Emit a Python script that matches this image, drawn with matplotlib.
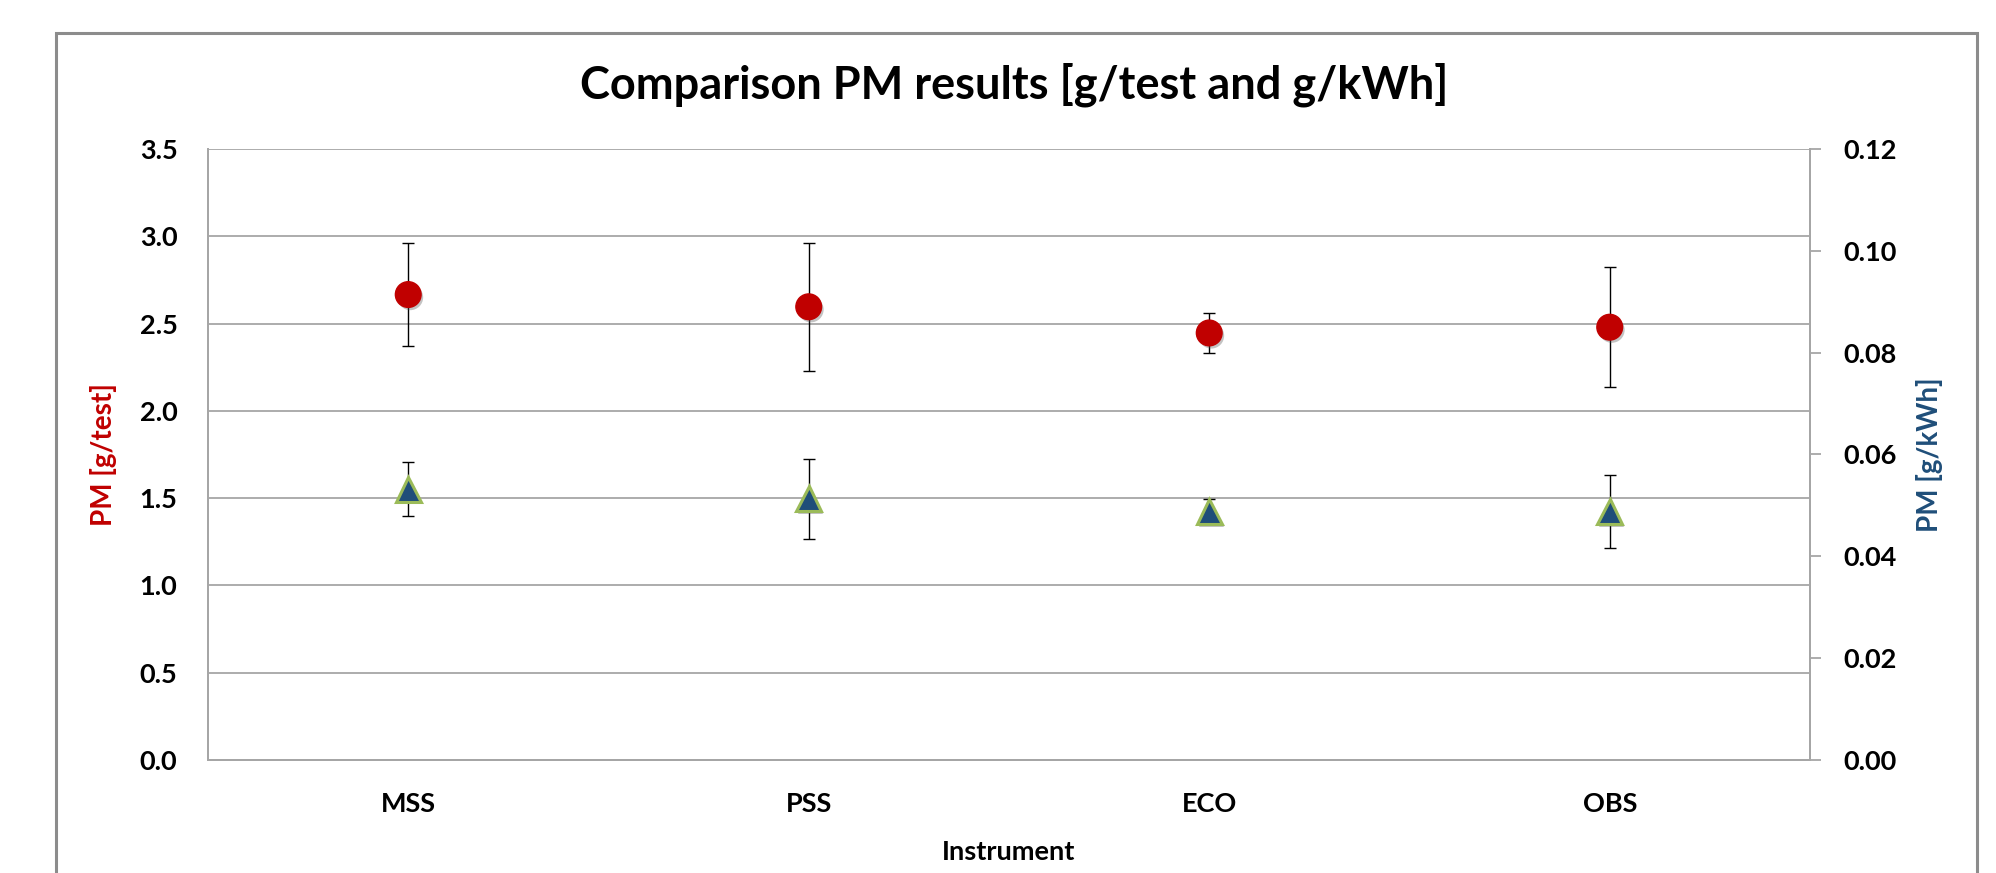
"""
plot.py
-------
PM results per instrument, g/test on the left axis and g/kWh on the right,
with error bars. Saves out.png.
"""

import matplotlib.pyplot as plt
import matplotlib.patheffects as pe
from matplotlib.patches import Rectangle

# ── Data ──────────────────────────────────────────────────────────────────────

instruments = ["MSS", "PSS", "ECO", "OBS"]

pm_g_test     = [2.666, 2.596, 2.446, 2.479]
pm_g_test_err = [0.297, 0.368, 0.115, 0.344]

pm_g_kwh      = [0.0532, 0.0513, 0.0488, 0.0488]
pm_g_kwh_err  = [0.0053, 0.0078, 0.0025, 0.0071]

left_ticks  = [0.0, 0.5, 1.0, 1.5, 2.0, 2.5, 3.0, 3.5]
right_ticks = [0.00, 0.02, 0.04, 0.06, 0.08, 0.10, 0.12]

# ── Style ─────────────────────────────────────────────────────────────────────

RED   = "#c00000"
BLUE  = "#1f4e79"
GREEN = "#9bbb59"
GRID  = "#a6a6a6"

plt.rcParams["font.family"] = ["Lato", "DejaVu Sans"]
plt.rcParams["font.weight"] = "bold"

shadow = [pe.SimplePatchShadow(offset=(1.5, -2), shadow_rgbFace="#555555", alpha=0.35),
          pe.Normal()]

# ── Figure ────────────────────────────────────────────────────────────────────

fig = plt.figure(figsize=(19.96, 8.73), dpi=100)
ax = fig.add_axes([0.1042, 0.1294, 0.8026, 0.7000])
ax2 = ax.twinx()

x = list(range(len(instruments)))

# g/test (left axis)
ax.errorbar(x, pm_g_test, yerr=pm_g_test_err, fmt="none", ecolor="black",
            elinewidth=1.0, capsize=4.6, capthick=1.0, zorder=2)
ax.plot(x, pm_g_test, "o", ms=18.5, color=RED, mec=RED, zorder=3,
        path_effects=shadow)

# g/kWh (right axis)
ax2.errorbar(x, pm_g_kwh, yerr=pm_g_kwh_err, fmt="none", ecolor="black",
             elinewidth=1.0, capsize=4.6, capthick=1.0, zorder=2)
ax2.plot(x, pm_g_kwh, "^", ms=18, color=BLUE, mec=GREEN, mew=2.2, zorder=3,
         path_effects=shadow)

# ── Axes ──────────────────────────────────────────────────────────────────────

ax.set_xlim(-0.5, len(instruments) - 0.5)
ax.set_ylim(0, 3.5)
ax.set_yticks(left_ticks)
ax.set_yticklabels([f"{v:.1f}" for v in left_ticks])
ax.set_xticks(x)
ax.set_xticklabels(instruments)
ax.yaxis.grid(True, color=GRID, linewidth=1.3)
ax.set_axisbelow(True)
ax.tick_params(axis="y", length=0, pad=22, labelsize=19.5)
ax.tick_params(axis="x", length=0, pad=23, labelsize=19.5)

ax2.set_ylim(0, 0.12)
ax2.set_yticks(right_ticks)
ax2.set_yticklabels([f"{v:.2f}" for v in right_ticks])
ax2.tick_params(axis="y", length=8, width=1.3, color=GRID, pad=16, labelsize=19.5)

for a in (ax, ax2):
    for side in ("left", "right", "bottom"):
        a.spines[side].set_color(GRID)
        a.spines[side].set_linewidth(1.3)
    a.spines["top"].set_visible(False)

ax.set_xlabel("Instrument", fontsize=19.5, fontweight="bold", labelpad=17)
ax.set_ylabel("PM [g/test]", fontsize=20, fontweight="bold", color=RED, labelpad=16)
ax2.set_ylabel("PM [g/kWh]", fontsize=20, fontweight="bold", color=BLUE, labelpad=14)

fig.text(0.508, 0.903, "Comparison PM results [g/test and g/kWh]",
         ha="center", va="center", fontsize=32.5, fontweight="bold")

# outer chart border (cut off at the bottom in the reference)
fig.patches.append(Rectangle((0.0281, -0.05), 0.9624, 1.0122, transform=fig.transFigure,
                             fill=False, edgecolor="#8c8c8c", linewidth=2.2))

fig.savefig("out.png", dpi=100, facecolor="white")
